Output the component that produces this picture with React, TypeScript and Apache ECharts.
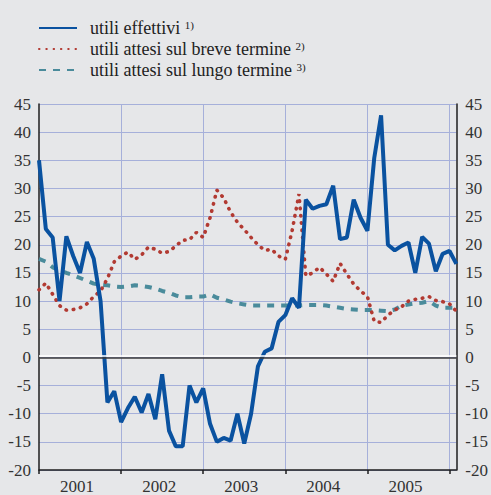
import React, { useEffect, useRef } from 'react';
import * as echarts from 'echarts';

const YEARS = ['2001', '2002', '2003', '2004', '2005', '2006'];
const MONTHS: string[] = YEARS.flatMap((y) =>
  ['01', '02', '03', '04', '05', '06', '07', '08', '09', '10', '11', '12'].map((m) => `${y}-${m}`)
).slice(0, 62);

const SERIES_NAMES = [
  'utili effettivi',
  'utili attesi sul breve termine',
  'utili attesi sul lungo termine',
];
const SUPS = ['1)', '2)', '3)'];

const ACTUAL = [
  35, 22.8, 21.3, 10, 21.5, 18, 15, 20.5, 17.5, 10, -8, -6,
  -11.5, -9, -7, -9.8, -6.5, -11, -3, -13, -15.8, -15.8, -5, -8,
  -5.5, -11.8, -15, -14.3, -14.8, -10, -15.3, -10, -1.6, 1, 1.6, 6.3,
  7.5, 10.5, 8.8, 28, 26.4, 26.9, 27.2, 30.5, 21, 21.3, 28, 24.8,
  22.5, 35.4, 43, 20, 19, 19.8, 20.4, 15, 21.4, 20.2, 15.3, 18.4,
  18.9, 16.6,
];

const SHORT_TERM = [
  12, 13.2, 11.2, 9.2, 8.4, 8.5, 8.8, 9.5, 10.8, 11.8, 14, 17,
  18, 18.7, 17.4, 18.2, 19.6, 19.2, 18.5, 18.8, 19.8, 20.8, 20.9, 22.2,
  21.3, 24.8, 29.7, 28.3, 25.8, 24, 22.7, 21.3, 20, 19, 19.2, 18,
  17.4, 22.5, 29, 14.5, 15, 16, 14.8, 13.5, 16.7, 14.8, 13, 11.8,
  10.8, 6.4, 6.2, 7.5, 8.4, 9, 10, 10.3, 10.5, 10.8, 10.1, 9.9,
  9.5, 8.2,
];

const LONG_TERM = [
  17.5, 17, 16, 15.5, 15, 14.6, 14.1, 13.6, 13.1, 12.9, 12.8, 12.6,
  12.5, 12.6, 12.8, 12.7, 12.5, 12.2, 11.8, 11.5, 11, 10.7, 10.7, 10.8,
  10.8, 11.2, 10.6, 10.3, 9.9, 9.6, 9.4, 9.2, 9.2, 9.2, 9.2, 9.2,
  9.2, 9.2, 9.2, 9.3, 9.3, 9.3, 9.2, 9.0, 8.8, 8.6, 8.5, 8.4,
  8.4, 8.4, 8.3, 8.2, 8.5, 9.2, 9.4, 9.6, 9.7, 10, 9.2, 8.8,
  8.8, 8.8,
];

const Y_MIN = -20;
const Y_MAX = 45;
const Y_STEP = 5;

const FONT = 'Liberation Serif';
const BLUE = '#0a52a0';
const RED = '#b23a32';
const TEAL = '#4a8b9b';
const GRID = '#a6b0da';
const AXIS = '#1e1e1e';

export default function App() {
  const ref = useRef<HTMLDivElement>(null);

  useEffect(() => {
    if (!ref.current) return;
    const chart = echarts.init(ref.current, undefined, { renderer: 'svg' });

    const yAxisBase = {
      type: 'value' as const,
      min: Y_MIN,
      max: Y_MAX,
      interval: Y_STEP,
      axisTick: { show: false },
    };

    chart.setOption({
      animation: false,
      backgroundColor: '#e6e7e9',
      textStyle: { fontFamily: FONT },
      legend: {
        orient: 'vertical',
        left: 33,
        top: 14,
        itemWidth: 38,
        itemHeight: 14,
        itemGap: 3,
        data: SERIES_NAMES,
        itemStyle: { opacity: 0 },
        formatter: (name: string) => `${name} {sup|${SUPS[SERIES_NAMES.indexOf(name)]}}`,
        textStyle: {
          fontFamily: FONT,
          fontSize: 18,
          color: '#222',
          lineHeight: 18,
          padding: [0, 0, 0, 8],
          rich: {
            sup: { fontFamily: FONT, fontSize: 11, color: '#222', verticalAlign: 'top', lineHeight: 11 },
          },
        },
      },
      grid: { left: 39, right: 29, top: 104, bottom: 23, containLabel: false },
      xAxis: {
        type: 'category',
        data: MONTHS,
        boundaryGap: false,
        axisLine: { show: true, onZero: false, lineStyle: { color: AXIS, width: 1.5 } },
        axisTick: {
          show: true,
          interval: (i: number) => i % 12 === 0,
          length: 4,
          lineStyle: { color: AXIS, width: 1.5 },
        },
        axisLabel: {
          interval: (i: number) => i % 12 === 6,
          formatter: (v: string) => v.slice(0, 4),
          fontFamily: FONT,
          fontSize: 17,
          color: '#333',
          margin: 8,
          padding: [0, 6, 0, 0],
        },
        splitLine: {
          show: true,
          interval: (i: number) => i % 12 === 0 && i > 0,
          lineStyle: { color: GRID, width: 1 },
        },
      },
      yAxis: [
        {
          ...yAxisBase,
          position: 'left',
          axisLine: { show: true, lineStyle: { color: AXIS, width: 1.5 } },
          axisLabel: { fontFamily: FONT, fontSize: 17, color: '#333', margin: 8 },
          splitLine: { show: true, lineStyle: { color: GRID, width: 1 } },
        },
        {
          ...yAxisBase,
          position: 'right',
          axisLine: { show: true, lineStyle: { color: AXIS, width: 1.5 } },
          axisLabel: { fontFamily: FONT, fontSize: 17, color: '#333', margin: 9 },
          splitLine: { show: false },
        },
      ],
      series: [
        {
          name: SERIES_NAMES[2],
          type: 'line',
          data: LONG_TERM,
          symbol: 'none',
          showSymbol: false,
          itemStyle: { color: TEAL },
          lineStyle: { color: TEAL, width: 4, type: [7, 7] },
          z: 2,
          markLine: {
            silent: true,
            symbol: 'none',
            label: { show: false },
            data: [
              { yAxis: 0.3, lineStyle: { color: '#ffffff', width: 1.5, type: 'solid' } },
              { yAxis: 0, lineStyle: { color: '#3a3a3a', width: 1.5, type: 'solid' } },
            ],
          },
        },
        {
          name: SERIES_NAMES[1],
          type: 'line',
          data: SHORT_TERM,
          symbol: 'none',
          showSymbol: false,
          itemStyle: { color: RED },
          lineStyle: { color: RED, width: 3.6, type: [0.5, 6.8], cap: 'round' },
          z: 3,
        },
        {
          name: SERIES_NAMES[0],
          type: 'line',
          data: ACTUAL,
          symbol: 'none',
          showSymbol: false,
          itemStyle: { color: BLUE },
          lineStyle: { color: BLUE, width: 4 },
          z: 4,
        },
      ],
    });

    return () => chart.dispose();
  }, []);

  return (
    <div
      ref={ref}
      style={{ position: 'absolute', left: 0, top: 0, width: 491, height: 495 }}
    />
  );
}
